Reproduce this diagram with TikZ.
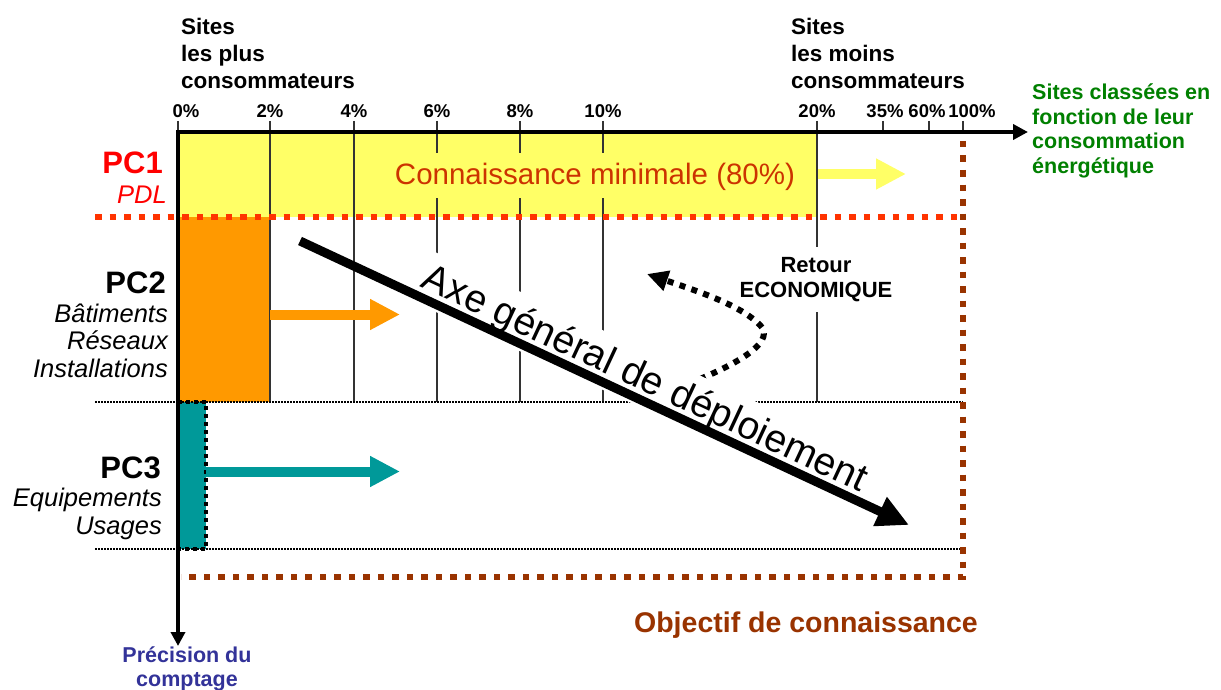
\documentclass[tikz,border=0pt]{standalone}
\usepackage{fontspec}
\setmainfont{Liberation Sans}
\usetikzlibrary{arrows.meta}
\definecolor{yfill}{HTML}{FFFF66}
\definecolor{ofill}{HTML}{FF9900}
\definecolor{tfill}{HTML}{009999}
\definecolor{pcred}{HTML}{FF0000}
\definecolor{reddotc}{HTML}{FF3300}
\definecolor{brownc}{HTML}{993300}
\definecolor{connc}{HTML}{CC3300}
\definecolor{greenc}{HTML}{008000}
\definecolor{bluec}{HTML}{333399}
\begin{document}
\begin{tikzpicture}[x=1pt,y=-1pt,
  gridline/.style={line width=1.3pt, black!80},
  thindot/.style={line width=1.5pt, dash pattern=on 1.6pt off 1.4pt},
  reddot/.style={line width=6pt, dash pattern=on 6.5pt off 8pt, draw=reddotc},
  browndot/.style={line width=6pt, dash pattern=on 6.5pt off 8pt, draw=brownc},
  pct/.style={font=\fontsize{18.5}{20}\selectfont\bfseries, inner sep=0pt, anchor=base},
  hdr/.style={font=\fontsize{22.5}{27}\selectfont\bfseries, align=left, inner sep=0pt, anchor=west},
  pclab/.style={font=\fontsize{31}{34}\selectfont\bfseries, inner sep=0pt, anchor=base east},
  pcdesc/.style={font=\fontsize{25.5}{27.5}\selectfont\itshape, align=right, inner sep=0pt, anchor=east},
  fatarrow/.style={line width=10pt, -{Triangle[length=30pt,width=29pt]}},
]
\fill[white] (0,0) rectangle (1221,690);
\useasboundingbox (0,0) rectangle (1221,690);

% coloured areas
\fill[yfill] (178,132) rectangle (817,217);
\fill[ofill] (178,217) rectangle (270,402);
\fill[tfill] (178,402) rectangle (206,549);

% grid lines and ticks
\foreach \x in {270,354,437,520,603,817} \draw[gridline] (\x,121) -- (\x,402);
\foreach \x in {178,883,929,963} \draw[gridline] (\x,121) -- (\x,132);

% percent labels
\node[pct] (p0) at (186,118) {0\%};
\node[pct] (p2) at (270,118) {2\%};
\node[pct] (p4) at (354,118) {4\%};
\node[pct] (p6) at (437,118) {6\%};
\node[pct] (p8) at (520,118) {8\%};
\node[pct] (p10) at (603,118) {10\%};
\node[pct] (p20) at (817,118) {20\%};
\node[pct] (p35) at (885,118) {35\%};
\node[pct] (p60) at (927,118) {60\%};
\node[pct] (p100) at (972,118) {100\%};

% text boxes hiding grid lines
\node[font=\fontsize{29.5}{32}\selectfont, text=connc, fill=yfill, text height=26pt, text depth=7pt,
  inner xsep=4pt, inner ysep=6pt, anchor=base] (conn) at (595,185) {Connaissance minimale (80\%)};
\node[font=\fontsize{22}{25}\selectfont\bfseries, fill=white, align=center,
  inner xsep=3pt, inner ysep=10pt] (retour) at (816,279.5) {Retour\\ECONOMIQUE};

% dotted lines
\draw[thindot] (95,402) -- (963,402);
\draw[thindot] (95,549) -- (963,549);
\draw[reddot] (95,217) -- (963,217);
\draw[browndot] (963,141) -- (963,577) -- (181,577);
\draw[line width=3.5pt, dash pattern=on 4pt off 4pt] (178,402) -- (206,402) -- (206,549) -- (178,549);

% retour economique curved arrow
\coordinate (cS) at (700,379);
\coordinate (cM) at (760,325);
\coordinate (cE) at (647,274);
\draw[line width=6pt, dash pattern=on 6pt off 6.5pt, -{Triangle[length=21pt,width=20pt]}]
  (cS) .. controls (745,360) and (775,340) .. (cM) .. controls (740,305) and (700,292) .. (cE);

% main deployment axis
\node[font=\fontsize{39}{42}\selectfont, fill=white, rotate=-25, anchor=base,
  text height=34pt, text depth=12pt, inner xsep=4pt, inner ysep=4pt] (axe) at (640,389.5) {Axe général de déploiement};
\coordinate (dA) at (300,241);
\coordinate (dB) at (909,525);
\draw[line width=9pt, -{Triangle[length=32pt,width=30pt]}] (dA) -- (dB);

% axes
\coordinate (O) at (178,132);
\coordinate (Xend) at (1028,132);
\coordinate (Yend) at (178,646);
\draw[line width=4.5pt, shorten <=-2pt, -{Triangle[length=15pt,width=15pt]}] (O) -- (Xend);
\draw[line width=4pt, -{Triangle[length=14pt,width=14pt]}] (O) -- (Yend);

% coloured arrows
\coordinate (ya) at (818,174);
\coordinate (yb) at (906,174);
\draw[fatarrow, draw=yfill, fill=yfill] (ya) -- (yb);
\coordinate (oa) at (270,314.5);
\coordinate (ob) at (400,314.5);
\draw[fatarrow, draw=ofill, fill=ofill] (oa) -- (ob);
\coordinate (ta) at (206,471.5);
\coordinate (tb) at (400,471.5);
\draw[fatarrow, draw=tfill, fill=tfill] (ta) -- (tb);

% labels
\node[hdr] (sitesplus) at (181,53) {Sites\\les plus\\consommateurs};
\node[hdr] (sitesmoins) at (791,53) {Sites\\les moins\\consommateurs};
\node[font=\fontsize{21.5}{24.5}\selectfont\bfseries, text=greenc, align=left, inner sep=0pt, anchor=west]
  (classees) at (1032,131) {Sites classées en\\fonction de leur\\consommation\\énergétique};

\node[pclab, text=pcred] (pc1) at (163,173) {PC1};
\node[pcdesc, text=pcred, anchor=base east] (pdl) at (167,203) {PDL};
\node[pclab] (pc2) at (166,293) {PC2};
\node[pcdesc] (pc2d) at (168,340.8) {Bâtiments\\Réseaux\\Installations};
\node[pclab] (pc3) at (161,478) {PC3};
\node[pcdesc] (pc3d) at (162,514) {Equipements\\Usages};

\node[font=\fontsize{28.5}{30}\selectfont\bfseries, text=brownc, inner sep=0pt, anchor=base]
  (objectif) at (806,632) {Objectif de connaissance};
\node[font=\fontsize{21.5}{24}\selectfont\bfseries, text=bluec, align=center, inner sep=0pt]
  (precision) at (187,669.3) {Précision du\\comptage};
\end{tikzpicture}
\end{document}
